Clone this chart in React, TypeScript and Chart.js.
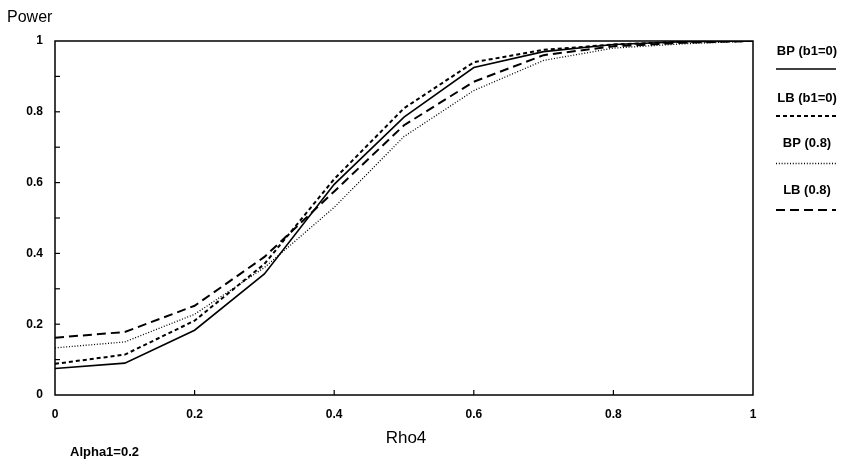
import React, { useEffect, useRef } from "react";
import { Chart, registerables } from "chart.js";

Chart.register(...registerables);

const rho = [0, 0.1, 0.2, 0.3, 0.4, 0.5, 0.6, 0.7, 0.8, 0.9, 1.0];
const bpB1Zero = [0.075, 0.09, 0.183, 0.342, 0.595, 0.785, 0.925, 0.97, 0.99, 0.998, 1.0];
const lbB1Zero = [0.088, 0.114, 0.21, 0.37, 0.61, 0.81, 0.94, 0.975, 0.99, 0.998, 1.0];
const bp08 = [0.133, 0.15, 0.228, 0.36, 0.53, 0.73, 0.86, 0.945, 0.98, 0.992, 1.0];
const lb08 = [0.162, 0.178, 0.252, 0.39, 0.575, 0.762, 0.885, 0.96, 0.985, 0.995, 1.0];

const seriesLabels = ["BP (b1=0)", "LB (b1=0)", "BP (0.8)", "LB (0.8)"];
const xTickValues = [0, 0.2, 0.4, 0.6, 0.8, 1];
const yTickValues = [0, 0.2, 0.4, 0.6, 0.8, 1];
const yTitle = "Power";
const xTitle = "Rho4";
const note = "Alpha1=0.2";

const FONT = "'Liberation Sans', Arial, sans-serif";

const styles = [
  { dash: [] as number[], width: 1.6 },
  { dash: [4, 3], width: 2 },
  { dash: [1, 1.8], width: 1.3 },
  { dash: [9, 5], width: 2 },
];

const series = [bpB1Zero, lbB1Zero, bp08, lb08];

const decor = {
  id: "decor",
  afterDraw(chart: any) {
    const ctx = chart.ctx;
    const { left, right, top, bottom } = chart.chartArea;
    const xs = chart.scales.x;
    const ys = chart.scales.y;
    ctx.save();
    ctx.strokeStyle = "#000";
    ctx.lineWidth = 1.5;
    ctx.setLineDash([]);
    ctx.strokeRect(left, top, right - left, bottom - top);
    // inward ticks
    ctx.lineWidth = 1.2;
    for (let i = 1; i < 10; i++) {
      const y = ys.getPixelForValue(i / 10);
      ctx.beginPath();
      ctx.moveTo(left, y);
      ctx.lineTo(left + 5, y);
      ctx.stroke();
    }
    for (const v of xTickValues.slice(1, -1)) {
      const x = xs.getPixelForValue(v);
      ctx.beginPath();
      ctx.moveTo(x, bottom);
      ctx.lineTo(x, bottom - 5);
      ctx.stroke();
    }
    // titles
    ctx.fillStyle = "#000";
    ctx.font = `16px ${FONT}`;
    ctx.textAlign = "left";
    ctx.textBaseline = "middle";
    ctx.fillText(yTitle, 7, 18);
    ctx.font = `17px ${FONT}`;
    ctx.textAlign = "center";
    ctx.fillText(xTitle, 406, 438);
    ctx.font = `bold 13px ${FONT}`;
    ctx.textAlign = "left";
    ctx.fillText(note, 70, 452);
    // legend
    const cx = 807;
    const labelYs = [51, 98, 143.5, 190];
    const lineYs = [69, 116, 163.5, 210];
    chart.data.datasets.forEach((ds: any, i: number) => {
      ctx.font = `bold 13px ${FONT}`;
      ctx.textAlign = "center";
      ctx.fillStyle = "#000";
      ctx.fillText(ds.label, cx, labelYs[i]);
      ctx.beginPath();
      ctx.setLineDash(ds.borderDash || []);
      ctx.lineWidth = ds.borderWidth;
      ctx.moveTo(776, lineYs[i]);
      ctx.lineTo(836, lineYs[i]);
      ctx.stroke();
    });
    ctx.restore();
  },
};

export default function App() {
  const ref = useRef<HTMLCanvasElement | null>(null);
  useEffect(() => {
    if (!ref.current) return;
    const chart = new Chart(ref.current, {
      type: "line",
      data: {
        datasets: series.map((vals, i) => ({
          label: seriesLabels[i],
          data: rho.map((x, j) => ({ x, y: vals[j] })),
          borderColor: "#000",
          borderWidth: styles[i].width,
          borderDash: styles[i].dash,
          pointRadius: 0,
          fill: false,
          tension: 0,
        })),
      },
      options: {
        animation: false,
        responsive: false,
        maintainAspectRatio: false,
        layout: { padding: { top: 41, right: 98, left: 0, bottom: 0 } },
        plugins: { legend: { display: false }, tooltip: { enabled: false } },
        scales: {
          x: {
            type: "linear",
            min: 0,
            max: 1,
            afterFit: (s: any) => {
              s.height = 69;
            },
            afterBuildTicks: (s: any) => {
              s.ticks = xTickValues.map((v) => ({ value: v }));
            },
            grid: { display: false, drawTicks: false },
            border: { display: false },
            ticks: {
              color: "#000",
              padding: 12,
              maxRotation: 0,
              font: { family: FONT, size: 12, weight: "bold" },
              callback: (v: any) => String(Number(v)),
            },
          },
          y: {
            type: "linear",
            min: 0,
            max: 1,
            afterFit: (s: any) => {
              s.width = 55;
            },
            afterBuildTicks: (s: any) => {
              s.ticks = yTickValues.map((v) => ({ value: v }));
            },
            grid: { display: false, drawTicks: false },
            border: { display: false },
            ticks: {
              color: "#000",
              padding: 12,
              font: { family: FONT, size: 12, weight: "bold" },
              callback: (v: any) => String(Number(v)),
            },
          },
        },
      },
      plugins: [decor],
    });
    return () => chart.destroy();
  }, []);
  return (
    <div style={{ position: "absolute", left: 0, top: 0, width: 851, height: 464, background: "#fff" }}>
      <canvas ref={ref} width={851} height={464} style={{ width: 851, height: 464, display: "block" }} />
    </div>
  );
}
